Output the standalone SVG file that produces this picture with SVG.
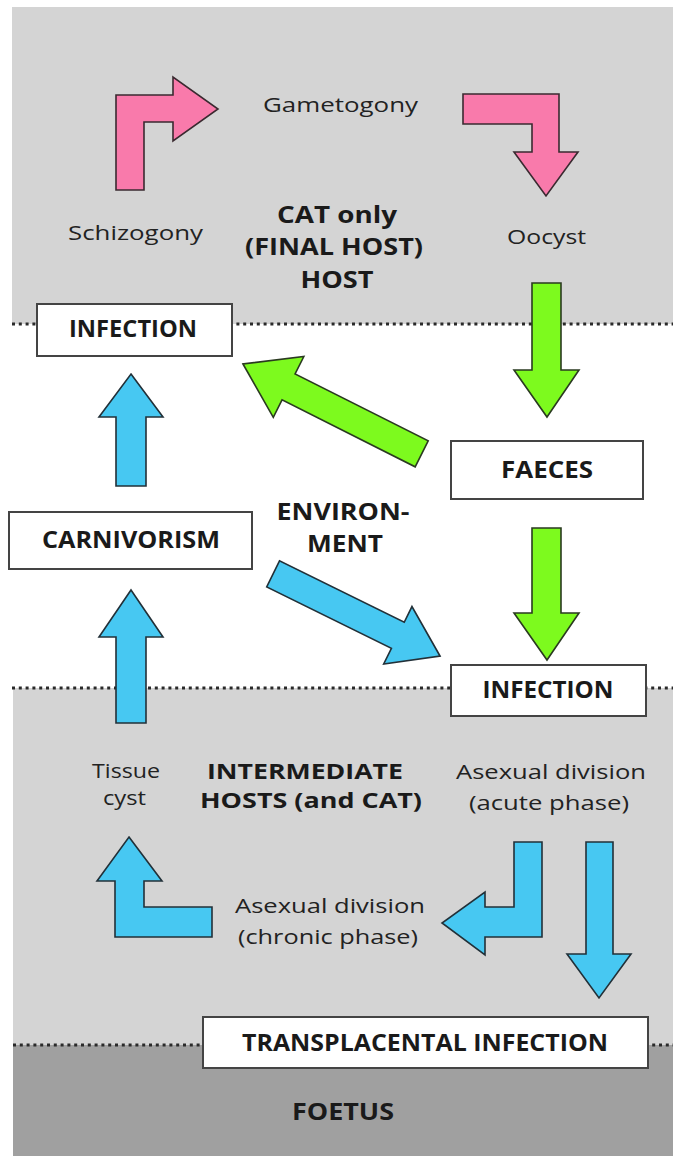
<svg xmlns="http://www.w3.org/2000/svg" width="673" height="1156" viewBox="0 0 673 1156">
<style>
.r{font-family:"Open Sans","Noto Sans","Liberation Sans",sans-serif;font-size:20px;fill:#222;text-anchor:middle}
.b{font-family:"Open Sans","Noto Sans","Liberation Sans",sans-serif;font-size:23px;font-weight:bold;fill:#1a1a1a;text-anchor:middle}
.bs{font-size:22px}
.box{fill:#fff;stroke:#444;stroke-width:2}
.dot{stroke:#2a2a2a;stroke-width:3;stroke-dasharray:3 3.8;fill:none}
.pink{fill:#f97aab;stroke:#3a2a30;stroke-width:1.6;stroke-linejoin:miter}
.green{fill:#7dfa1e;stroke:#2a3a20;stroke-width:1.6;stroke-linejoin:miter}
.blue{fill:#47c8f2;stroke:#223038;stroke-width:1.6;stroke-linejoin:miter}
</style>
<rect width="673" height="1156" fill="#fff"/>
<g id="zones">
<rect x="12" y="7" width="661" height="317" fill="#d4d4d4"/>
<rect x="13" y="688" width="660" height="357" fill="#d4d4d4"/>
<rect x="13" y="1045" width="660" height="111" fill="#a0a0a0"/>
<line class="dot" x1="12" y1="324" x2="673" y2="324"/>
<line class="dot" x1="12" y1="688" x2="673" y2="688"/>
<line class="dot" x1="13" y1="1045" x2="673" y2="1045"/>
</g>
<g id="connectors">
<polygon class="pink" points="116,190 116,95 173,95 173,77 218,109 173,141 173,122 144,122 144,190"/>
<polygon class="pink" points="463,94 559,94 559,152 578,152 546,196 514,152 532,152 532,124 463,124"/>
<polygon class="green" points="532,283 561,283 561,370 579,370 547,417 514,370 532,370"/>
<polygon class="green" points="532,528 561,528 561,613 579,613 547,660 514,613 532,613"/>
<polygon class="green" transform="translate(243,364) rotate(206.7)" points="0,0 -51,-34 -51,-14.5 -200,-14.5 -200,14.5 -51,14.5 -51,34"/>
<polygon class="blue" transform="translate(440,656) rotate(26.2)" points="0,0 -47,-32 -47,-14.5 -186,-14.5 -186,14.5 -47,14.5 -47,32"/>
<polygon class="blue" points="131,374 163,417 146,417 146,486 116,486 116,417 99,417"/>
<polygon class="blue" points="131,590 163,637 146,637 146,723 116,723 116,637 99,637"/>
<polygon class="blue" points="129,837 162,881 144,881 144,907 212,907 212,937 115,937 115,881 97,881"/>
<polygon class="blue" points="514,842 542,842 542,937 485,937 485,955 442,923 485,892 485,907 514,907"/>
<polygon class="blue" points="586,842 613,842 613,954 631,954 599,998 567,954 586,954"/>
</g>
<g id="labels-top">
<text class="r" x="340.5" y="112" textLength="155" lengthAdjust="spacingAndGlyphs">Gametogony</text>
<text class="r" x="135.5" y="240" textLength="135" lengthAdjust="spacingAndGlyphs">Schizogony</text>
<text class="r" x="546.5" y="244" textLength="79" lengthAdjust="spacingAndGlyphs">Oocyst</text>
<text class="b" x="337" y="222.5" textLength="120" lengthAdjust="spacingAndGlyphs">CAT only</text>
<text class="b" x="334" y="255" textLength="178" lengthAdjust="spacingAndGlyphs">(FINAL HOST)</text>
<text class="b" x="337" y="288" textLength="73" lengthAdjust="spacingAndGlyphs">HOST</text>
</g>
<g id="infection-top">
<rect class="box" x="37" y="304" width="195" height="52"/>
<text class="b" x="133" y="337" textLength="128" lengthAdjust="spacingAndGlyphs">INFECTION</text>
</g>
<g id="faeces">
<rect class="box" x="451" y="441" width="192" height="58"/>
<text class="b" x="547" y="478" textLength="92" lengthAdjust="spacingAndGlyphs">FAECES</text>
</g>
<g id="carnivorism">
<rect class="box" x="9" y="512" width="243" height="57"/>
<text class="b" x="131" y="548" textLength="178" lengthAdjust="spacingAndGlyphs">CARNIVORISM</text>
</g>
<g id="environment">
<text class="b" x="343" y="520" textLength="133" lengthAdjust="spacingAndGlyphs">ENVIRON-</text>
<text class="b" x="345" y="551.5" textLength="76" lengthAdjust="spacingAndGlyphs">MENT</text>
</g>
<g id="infection-bottom">
<rect class="box" x="451" y="665" width="195" height="51"/>
<text class="b" x="548" y="698" textLength="131" lengthAdjust="spacingAndGlyphs">INFECTION</text>
</g>
<g id="labels-intermediate">
<text class="r" x="126" y="778" textLength="68" lengthAdjust="spacingAndGlyphs">Tissue</text>
<text class="r" x="124.5" y="805" textLength="43" lengthAdjust="spacingAndGlyphs">cyst</text>
<text class="b bs" x="305" y="779" textLength="196" lengthAdjust="spacingAndGlyphs">INTERMEDIATE</text>
<text class="b bs" x="311" y="808" textLength="222" lengthAdjust="spacingAndGlyphs">HOSTS (and CAT)</text>
<text class="r" x="551" y="779" textLength="190" lengthAdjust="spacingAndGlyphs">Asexual division</text>
<text class="r" x="549" y="810" textLength="160" lengthAdjust="spacingAndGlyphs">(acute phase)</text>
<text class="r" x="330" y="913" textLength="190" lengthAdjust="spacingAndGlyphs">Asexual division</text>
<text class="r" x="328" y="944" textLength="180" lengthAdjust="spacingAndGlyphs">(chronic phase)</text>
</g>
<g id="transplacental">
<rect class="box" x="203" y="1017" width="445" height="51"/>
<text class="b" x="425" y="1050.5" textLength="366" lengthAdjust="spacingAndGlyphs">TRANSPLACENTAL INFECTION</text>
</g>
<g id="foetus">
<text class="b" x="343" y="1120" textLength="102" lengthAdjust="spacingAndGlyphs">FOETUS</text>
</g>
</svg>
